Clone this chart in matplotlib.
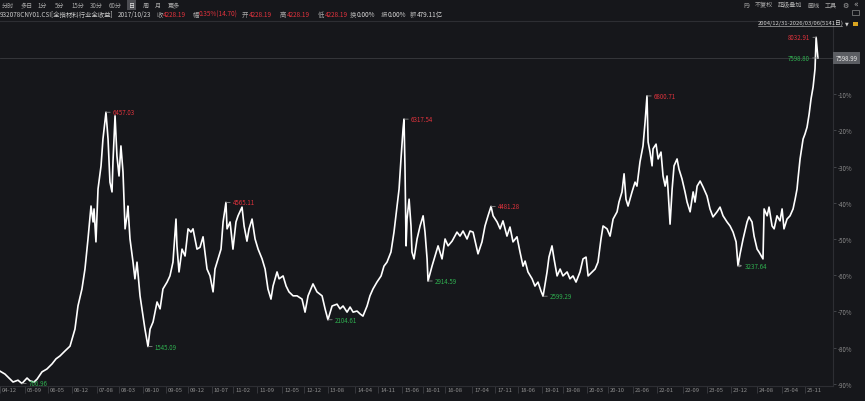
import matplotlib
matplotlib.use("Agg")
import matplotlib.pyplot as plt
from matplotlib.patches import Rectangle
from matplotlib.lines import Line2D
import matplotlib.transforms as mtransforms

plt.rcParams["font.family"] = ["Noto Sans CJK SC", "DejaVu Sans"]

# trading-day index (0 = 2004/12/31, 5140 = 2026/03/06) and change vs last close (%)
days = [0, 31, 63, 82, 113, 138, 170, 189, 214, 233, 264, 295, 327, 352,
        377, 409, 440, 471, 490, 515, 534, 553, 572, 585, 591, 603, 616, 635, 647, 666,
        679, 691, 704, 710, 723, 735, 748, 760, 773, 786, 798, 804, 817, 836, 848, 861,
        880, 899, 911, 930, 943, 962, 987, 1006, 1024, 1050, 1068, 1087, 1106, 1112,
        1125, 1144, 1163, 1182, 1200, 1213, 1238,
        1257, 1276, 1301, 1320, 1339, 1351, 1370, 1389, 1402, 1420, 1427, 1446, 1464,
        1483, 1496, 1521, 1534, 1552, 1565, 1584, 1603, 1622, 1647, 1666, 1684, 1703,
        1716, 1741, 1754, 1779, 1798, 1816, 1842,
        1867, 1898, 1917, 1936, 1967, 1992, 2024, 2043, 2061, 2087,
        2118, 2137, 2156, 2181, 2200, 2219, 2244, 2263, 2281, 2307,
        2325, 2344, 2369, 2395, 2413, 2432, 2457, 2476, 2495, 2508,
        2520, 2533, 2539, 2545, 2552, 2558, 2571, 2583, 2589, 2602,
        2621, 2640, 2659, 2671, 2684, 2690, 2715, 2734, 2753, 2778,
        2797, 2816, 2841, 2872, 2891, 2910, 2935,
        2954, 2973, 3004, 3029, 3048, 3067, 3086, 3099, 3124, 3143,
        3161, 3186, 3205, 3224, 3249, 3268, 3287, 3300, 3318, 3344,
        3362, 3381, 3400, 3413, 3438, 3450, 3469, 3482, 3501, 3520,
        3538, 3564, 3582, 3601, 3620, 3645, 3664, 3683, 3696, 3721,
        3740, 3758, 3777, 3790, 3815, 3834, 3853, 3878, 3890,
        3909, 3922, 3934, 3947, 3972, 3991, 4003, 4022, 4041, 4054,
        4066, 4073, 4085, 4098, 4104, 4123, 4136, 4154, 4167, 4180,
        4192, 4198, 4211, 4224, 4236, 4255, 4267, 4286, 4305, 4318,
        4337, 4356, 4368, 4381, 4400,
        4418, 4443, 4462, 4481, 4506, 4525, 4544, 4569, 4588, 4607,
        4626, 4638, 4651, 4670, 4695, 4707, 4726, 4739, 4758, 4770,
        4795, 4802, 4821, 4833, 4852, 4865, 4883, 4902, 4915, 4927,
        4946, 4965, 4984, 4997, 5009, 5015,
        5028, 5047, 5059, 5072, 5085, 5097, 5110, 5122, 5129, 5140]

pct = [-86.5, -87.3, -88.7, -89.5, -89.0, -89.9, -88.4, -89.2, -89.5, -88.7, -86.7, -85.9, -84.5, -83.1,
       -82.3, -80.9, -79.6, -74.9, -68.5, -63.8, -58.3, -50.0, -40.9, -45.3, -41.7, -50.8, -36.2, -29.8, -22.4, -15.0,
       -22.4, -34.3, -37.0, -28.7, -16.0, -27.1, -32.6, -24.3, -31.5, -47.2, -43.6, -40.9, -50.0, -56.4, -61.0, -56.4,
       -65.7, -71.3, -74.9, -79.7, -74.9, -72.9, -67.4, -69.3, -63.8, -61.9, -60.2, -56.4, -44.5, -51.9,
       -59.1, -52.8, -54.7, -47.2, -48.1, -47.2, -52.8,
       -52.3, -49.4, -58.3, -60.2, -64.6, -58.3, -55.5, -52.8, -45.3, -39.9, -47.2, -45.3, -52.8,
       -45.3, -43.6, -41.2, -46.4, -50.6, -47.2, -44.5, -50.0, -52.8, -55.5, -58.3, -63.8, -66.6,
       -63.0, -59.1, -61.0, -60.2, -63.0, -64.6, -65.7,
       -65.7, -66.6, -70.2, -65.7, -62.4, -64.6, -65.7, -69.3, -72.3, -68.5,
       -68.0, -69.3, -68.5, -70.2, -68.8, -70.2, -69.9, -70.7, -71.3, -68.5,
       -65.7, -63.8, -61.9, -60.2, -57.5, -56.4, -53.6, -48.1, -40.9, -36.2,
       -27.9, -19.6, -16.9, -29.8, -51.9, -44.5, -39.0, -46.4, -53.6, -55.5,
       -50.0, -46.4, -43.6, -48.1, -55.5, -61.6, -57.5, -54.7, -51.9, -55.5,
       -50.0, -51.9, -50.6, -48.1, -49.2, -47.8, -50.0,
       -47.8, -48.1, -54.1, -50.8, -46.4, -43.6, -41.0, -43.6, -45.3, -47.2,
       -45.0, -49.2, -46.7, -50.8, -49.4, -53.6, -57.5, -56.1, -59.1, -61.0,
       -63.0, -61.9, -64.4, -65.8, -59.1, -55.0, -51.9, -55.5, -60.2, -58.3,
       -60.2, -59.1, -61.0, -60.2, -61.9, -59.1, -55.5, -55.0, -60.2, -59.1,
       -58.3, -56.4, -50.0, -46.4, -47.2, -49.2, -44.5, -42.5, -39.8,
       -37.0, -32.0, -39.0, -40.9, -37.0, -34.3, -35.4, -28.7, -24.3, -17.7,
       -10.5, -23.2, -26.0, -29.8, -25.1, -23.8, -27.9, -26.0, -32.6, -35.4,
       -32.6, -36.2, -45.9, -36.2, -29.8, -27.9, -30.7, -33.4, -37.0, -39.8,
       -42.5, -37.0, -39.8, -35.4, -34.0,
       -35.6, -38.1, -41.7, -43.9, -42.5, -41.2, -43.6, -45.3, -46.4, -48.1,
       -50.8, -57.4, -54.1, -50.0, -45.3, -43.9, -45.3, -49.2, -52.8, -53.6,
       -55.5, -41.7, -43.6, -41.2, -46.4, -47.2, -43.6, -45.0, -41.7, -47.2,
       -44.5, -43.6, -41.7, -39.0, -36.2, -33.4,
       -27.9, -22.4, -21.0, -19.1, -15.5, -11.3, -8.0, -3.0, 5.7, 0.0]

tick_days = [0, 157, 302, 453, 610, 748, 899, 1043, 1182, 1332, 1464, 1615, 1772, 1911,
             2061, 2231, 2376, 2527, 2659, 2797, 2967, 3111, 3256, 3406, 3538, 3689, 3821,
             3978, 4129, 4293, 4443, 4594, 4758, 4915, 5059]
tick_labels = ["04-12", "05-09", "06-05", "06-12", "07-08", "08-03", "08-10", "09-05", "09-12",
               "10-07", "11-02", "11-09", "12-05", "12-12", "13-08", "14-04", "14-11", "15-06",
               "16-01", "16-08", "17-04", "17-11", "18-06", "19-01", "19-08", "20-03", "20-10",
               "21-06", "22-01", "22-09", "23-05", "23-12", "24-08", "25-04", "25-11"]

pct_ticks = [-90, -80, -70, -60, -50, -40, -30, -20, -10]

high_days = [666, 1420, 2539, 3086, 4066]
high_pct = [-15.0, -39.9, -16.9, -41.0, -10.5]
high_text = ["6457.03", "4565.11", "6317.54", "4481.28", "6800.71"]

low_days = [138, 930, 2061, 2690, 3413, 4638]
low_pct = [-89.9, -79.7, -72.3, -61.6, -65.8, -57.4]
low_text = ["766.96", "1545.09", "2104.61", "2914.59", "2599.29", "3237.64"]

last_close = "7598.99"
top_text = "8032.91"
end_low_text = "7598.80"

W, H = 865, 402
BG = "#16171b"
GRAY = "#a9a9a9"
RED = "#e2333d"
GREEN = "#2fb050"

fig = plt.figure(figsize=(W / 100, H / 100), dpi=100, facecolor=BG)


def ftxt(x, y, s, color=GRAY, size=4.6, **kw):
    return fig.text(x / W, 1 - y / H, s, color=color, fontsize=size,
                    ha="left", va="center", **kw)


# toolbar row
for s, x in [("分时", 2), ("多日", 21), ("1分", 38), ("5分", 55), ("15分", 71),
             ("30分", 90), ("60分", 109), ("周", 143), ("月", 155), ("更多", 168)]:
    ftxt(x, 5.5, s, size=4.4)
ftxt(128.5, 5.5, "日", color="#e6e6e6", size=4.4,
     bbox=dict(facecolor="#4c4d52", edgecolor="none", pad=1.2))
for s, x in [("F9", 743), ("不复权", 755), ("超级叠加", 778), ("画线", 807), ("工具", 825)]:
    ftxt(x, 5.5, s, size=4.4)
ftxt(842, 5.5, "⚙", size=5, family=["DejaVu Sans"])
ftxt(853, 5.5, "«", size=5.5, family=["DejaVu Sans"])
fig.patches.append(Rectangle((852 / W, 1 - 16 / H), 7 / W, 5 / H, transform=fig.transFigure,
                             facecolor="none", edgecolor="#8a8a8a", lw=0.5))

# quote row
ftxt(0, 15, "932078CNY01.CSI[全指材料行业全收益]", color="#c9c9c9", size=4.6)
ftxt(118, 15, "2017/10/23", color="#c9c9c9", size=4.6)
row = [("收", 157, GRAY), ("4228.19", 163, RED), ("幅", 193, GRAY), ("0.35%(14.70)", 199, RED),
       ("开", 242, GRAY), ("4228.19", 249, RED), ("高", 280, GRAY), ("4228.19", 287, RED),
       ("低", 318, GRAY), ("4228.19", 325, RED), ("换", 350, GRAY), ("0.00%", 357, "#d8d8d8"),
       ("振", 381, GRAY), ("0.00%", 388, "#d8d8d8"), ("额", 410, GRAY), ("479.11亿", 417, "#d8d8d8")]
for s, x, c in row:
    ftxt(x, 15, s, color=c, size=4.6)

# date range
ftxt(758, 23.5, "2004/12/31-2026/03/06(5141日)", color="#cfcfcf", size=4.2)
fig.add_artist(Line2D([758 / W, 842 / W], [1 - 27 / H, 1 - 27 / H], color="#cfcfcf", lw=0.4))
ftxt(845, 23.5, "▼", color="#cfcfcf", size=3.5, family=["DejaVu Sans"])
fig.patches.append(Rectangle((853 / W, 1 - 27 / H), 5 / W, 4 / H, transform=fig.transFigure,
                             facecolor="#d9a520", edgecolor="none"))

# chart
ax = fig.add_axes([0, 15 / H, 833 / W, 365 / H])
ax.set_facecolor(BG)
ax.set_xlim(0, 5235)
ax.set_ylim(-90.6, 10.2)

ax.axhline(0, color="#3a3b40", lw=0.6, zorder=1)
ax.plot(days, pct, color="white", lw=1.2, zorder=3)

for d, p, t in zip(high_days, high_pct, high_text):
    ax.annotate(t, (d, p), xytext=(7, 0), textcoords="offset pixels", color=RED,
                fontsize=4.4, va="center", ha="left",
                arrowprops=dict(arrowstyle="-", color="#8a8a8a", lw=0.6, shrinkA=0, shrinkB=0))
for d, p, t in zip(low_days, low_pct, low_text):
    style = "<-" if t == "3237.64" else "-"
    ax.annotate(t, (d, p), xytext=(7, 0), textcoords="offset pixels", color=GREEN,
                fontsize=4.4, va="center", ha="left",
                arrowprops=dict(arrowstyle=style, color="#8a8a8a", lw=0.6, shrinkA=0,
                                shrinkB=0, mutation_scale=4))
ax.annotate(top_text, (days[-2], pct[-2]), xytext=(-6, 0), textcoords="offset pixels",
            color=RED, fontsize=4.4, va="center", ha="right",
            arrowprops=dict(arrowstyle="-", color="#8a8a8a", lw=0.6, shrinkA=0, shrinkB=0))
ax.annotate(end_low_text, (days[-1], pct[-1]), xytext=(-8, 0), textcoords="offset pixels",
            color=GREEN, fontsize=4.4, va="center", ha="right",
            arrowprops=dict(arrowstyle="-", color="#8a8a8a", lw=0.6, shrinkA=0, shrinkB=0))

ax.text(1.003, 0, last_close, transform=ax.get_yaxis_transform(), color="#e8e8e8",
        fontsize=4.4, va="center", ha="left",
        bbox=dict(facecolor="#5c5e63", edgecolor="none", pad=1.6))

ax.yaxis.tick_right()
ax.set_yticks(pct_ticks)
ax.set_yticklabels([f"{v}%" for v in pct_ticks])
ax.tick_params(axis="y", length=2, width=0.5, color="#55575c", labelcolor="#8e8e8e",
               labelsize=4.4, pad=1.5)

ax.set_xticks(tick_days)
ax.set_xticklabels(tick_labels)
ax.tick_params(axis="x", length=5, width=0.6, color="#3c3d42", labelcolor="#8e8e8e",
               labelsize=4.2, pad=-4)
shift = mtransforms.ScaledTranslation(2 / 100, 0, fig.dpi_scale_trans)
for lbl in ax.get_xticklabels():
    lbl.set_ha("left")
    lbl.set_transform(lbl.get_transform() + shift)

for side in ["top", "right", "bottom"]:
    ax.spines[side].set_color("#2d2e33")
    ax.spines[side].set_linewidth(0.8)
ax.spines["left"].set_visible(False)

fig.savefig("out.png", dpi=100, facecolor=BG)
